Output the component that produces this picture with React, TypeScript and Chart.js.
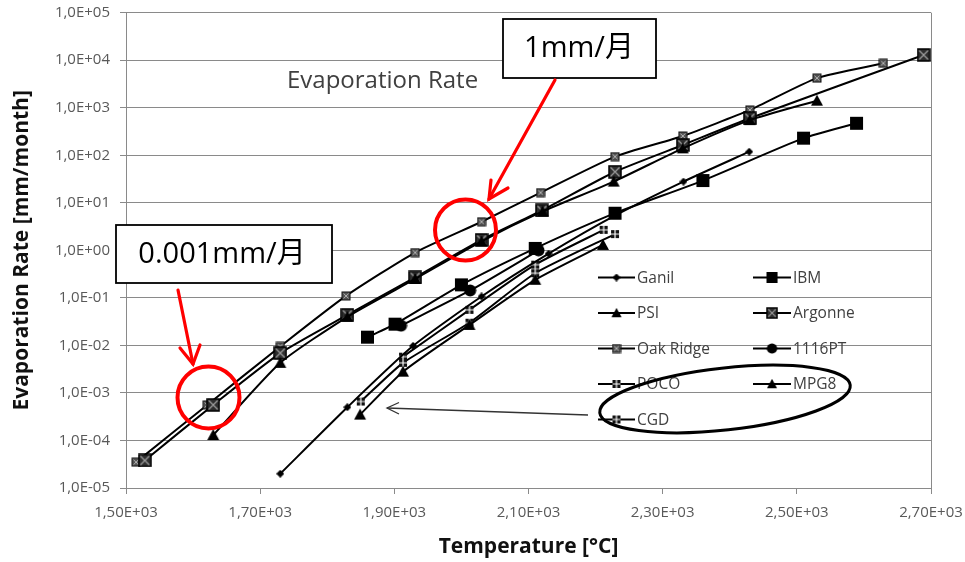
import React, { useEffect, useRef } from 'react';
import { Chart, registerables } from 'chart.js';

Chart.register(...registerables);

// ---------- data ----------
const xTickValues = [1500, 1700, 1900, 2100, 2300, 2500, 2700];
const xTickLabels = ['1,50E+03', '1,70E+03', '1,90E+03', '2,10E+03', '2,30E+03', '2,50E+03', '2,70E+03'];
const yTickValues = [1e-5, 1e-4, 1e-3, 1e-2, 1e-1, 1, 10, 100, 1000, 1e4, 1e5];
const yTickLabels = ['1,0E-05', '1,0E-04', '1,0E-03', '1,0E-02', '1,0E-01', '1,0E+00', '1,0E+01', '1,0E+02', '1,0E+03', '1,0E+04', '1,0E+05'];

const seriesNames = ['Ganil', 'IBM', 'PSI', 'Argonne', 'Oak Ridge', '1116PT', 'POCO', 'MPG8', 'CGD'];

const ganilT = [1730, 1830, 1928, 2030, 2130, 2230, 2331, 2429];
const ganilRate = [2.0e-5, 5.0e-4, 9.8e-3, 0.107, 0.85, 5.5, 28, 119];

const ibmT = [1860, 1901, 2000, 2110, 2229, 2360, 2510, 2589];
const ibmRate = [0.0149, 0.028, 0.188, 1.1, 6.05, 29.4, 229, 472];

const psiT = [1630, 1730, 1830, 1931, 2030, 2121, 2227, 2330, 2430, 2530];
const psiRate = [1.3e-4, 4.3e-3, 0.04, 0.25, 1.55, 6.6, 28, 140, 550, 1410];

const argonneT = [1528, 1630, 1730, 1830, 1931, 2030, 2120, 2229, 2330, 2430, 2689];
const argonneRate = [3.8e-5, 5.6e-4, 6.9e-3, 0.044, 0.27, 1.66, 6.9, 45, 165, 600, 12900];

const oakRidgeT = [1515, 1621, 1730, 1828, 1931, 2030, 2118, 2229, 2330, 2430, 2530, 2629];
const oakRidgeRate = [3.5e-5, 5.6e-4, 9.5e-3, 0.11, 0.9, 4.0, 16.4, 94, 255, 900, 4200, 8630];

const pt1116T = [1910, 2013, 2115];
const pt1116Rate = [0.026, 0.143, 1.0];

const pocoT = [1913, 2012, 2110, 2212];
const pocoRate = [5.8e-3, 0.056, 0.5, 2.7];

const mpg8T = [1849, 1913, 2012, 2110, 2211];
const mpg8Rate = [3.5e-4, 2.8e-3, 0.027, 0.24, 1.3];

const cgdT = [1850, 1913, 2012, 2110, 2229];
const cgdRate = [6.6e-4, 4.3e-3, 0.03, 0.33, 2.2];

const seriesT = [ganilT, ibmT, psiT, argonneT, oakRidgeT, pt1116T, pocoT, mpg8T, cgdT];
const seriesRate = [ganilRate, ibmRate, psiRate, argonneRate, oakRidgeRate, pt1116Rate, pocoRate, mpg8Rate, cgdRate];
const seriesMarker = ['diamond', 'bigSquare', 'triangle', 'xSquare', 'smallPattern', 'circle', 'plusSquare', 'triangle', 'plusSquare'];

// ---------- styling ----------
const W = 965;
const H = 562;
const GRID = '#8a8a8a';
const FONT = '"Open Sans", "Noto Sans CJK JP", sans-serif';

function makeMarker(kind: string): HTMLCanvasElement {
  const c = document.createElement('canvas');
  const s = kind === 'bigSquare' ? 15 : kind === 'xSquare' ? 14 : kind === 'triangle' ? 14 : kind === 'circle' ? 13 : kind === 'diamond' ? 8 : 10;
  c.width = s;
  c.height = s;
  const g = c.getContext('2d')!;
  g.fillStyle = '#000';
  g.strokeStyle = '#000';
  if (kind === 'diamond') {
    g.beginPath();
    g.moveTo(s / 2, 0);
    g.lineTo(s, s / 2);
    g.lineTo(s / 2, s);
    g.lineTo(0, s / 2);
    g.closePath();
    g.fill();
  } else if (kind === 'bigSquare') {
    g.fillRect(1, 1, s - 2, s - 2);
  } else if (kind === 'triangle') {
    g.beginPath();
    g.moveTo(s / 2, 1);
    g.lineTo(s - 1, s - 2);
    g.lineTo(1, s - 2);
    g.closePath();
    g.fill();
  } else if (kind === 'circle') {
    g.beginPath();
    g.arc(s / 2, s / 2, s / 2 - 0.5, 0, Math.PI * 2);
    g.fill();
  } else if (kind === 'xSquare') {
    g.fillStyle = '#2e2e2e';
    g.fillRect(1, 1, s - 2, s - 2);
    g.strokeStyle = '#9a9a9a';
    g.lineWidth = 1.3;
    g.beginPath();
    g.moveTo(2.5, 2.5);
    g.lineTo(s - 2.5, s - 2.5);
    g.moveTo(s - 2.5, 2.5);
    g.lineTo(2.5, s - 2.5);
    g.stroke();
    g.strokeStyle = '#000';
    g.lineWidth = 1.5;
    g.strokeRect(1, 1, s - 2, s - 2);
  } else if (kind === 'smallPattern') {
    g.fillStyle = '#555';
    g.fillRect(1, 1, s - 2, s - 2);
    g.strokeStyle = '#b0b0b0';
    g.lineWidth = 1;
    g.beginPath();
    g.moveTo(2.5, 2.5);
    g.lineTo(s - 2.5, s - 2.5);
    g.moveTo(s - 2.5, 2.5);
    g.lineTo(2.5, s - 2.5);
    g.stroke();
    g.strokeStyle = '#111';
    g.strokeRect(1, 1, s - 2, s - 2);
  } else if (kind === 'plusSquare') {
    g.fillStyle = '#111';
    g.fillRect(1, 1, s - 2, s - 2);
    g.strokeStyle = '#fff';
    g.lineWidth = 1.2;
    g.beginPath();
    g.moveTo(s / 2, 1);
    g.lineTo(s / 2, s - 1);
    g.moveTo(1, s / 2);
    g.lineTo(s - 1, s / 2);
    g.stroke();
  }
  return c;
}

function drawArrowHead(ctx: CanvasRenderingContext2D, tipX: number, tipY: number, ax: number, ay: number, bx: number, by: number) {
  ctx.beginPath();
  ctx.moveTo(ax, ay);
  ctx.lineTo(tipX, tipY);
  ctx.lineTo(bx, by);
  ctx.stroke();
}

export default function App() {
  const canvasRef = useRef<HTMLCanvasElement | null>(null);

  useEffect(() => {
    const canvas = canvasRef.current;
    if (!canvas) return;
    const markers = seriesMarker.map((k) => makeMarker(k));

    const overlayPlugin = {
      id: 'overlay',
      afterDraw(chart: any) {
        const ctx: CanvasRenderingContext2D = chart.ctx;
        ctx.save();

        // in-plot title
        ctx.fillStyle = '#404040';
        ctx.font = `24px ${FONT}`;
        ctx.textBaseline = 'alphabetic';
        ctx.textAlign = 'left';
        ctx.fillText('Evaporation Rate', 287, 88);

        // legend
        const colLine = [[598, 635], [753, 791]];
        const colText = [637, 793];
        ctx.font = `15.5px ${FONT}`;
        ctx.textBaseline = 'middle';
        seriesNames.forEach((name, i) => {
          const col = i % 2;
          const row = Math.floor(i / 2);
          const y = 277.5 + row * 35.5;
          ctx.strokeStyle = '#000';
          ctx.lineWidth = 2;
          ctx.beginPath();
          ctx.moveTo(colLine[col][0], y);
          ctx.lineTo(colLine[col][1], y);
          ctx.stroke();
          const m = markers[i];
          const mx = (colLine[col][0] + colLine[col][1]) / 2;
          const sc = m.width > 12 ? 0.85 : 1;
          ctx.drawImage(m, mx - (m.width * sc) / 2, y - (m.height * sc) / 2, m.width * sc, m.height * sc);
          ctx.fillStyle = '#404040';
          ctx.fillText(name, colText[col], y + 1);
        });

        // ellipse around POCO / MPG8 / CGD
        ctx.strokeStyle = '#000';
        ctx.lineWidth = 3;
        ctx.beginPath();
        ctx.ellipse(725, 399, 126, 31, -0.11, 0, Math.PI * 2);
        ctx.stroke();

        // thin arrow to CGD
        ctx.strokeStyle = '#333';
        ctx.lineWidth = 1.3;
        ctx.beginPath();
        ctx.moveTo(588, 415);
        ctx.lineTo(387, 408);
        ctx.stroke();
        drawArrowHead(ctx, 387, 408, 399, 402.5, 399, 414);

        // callout boxes
        ctx.fillStyle = '#fff';
        ctx.strokeStyle = '#000';
        ctx.lineWidth = 1.8;
        ctx.fillRect(503, 19, 153, 59);
        ctx.strokeRect(503, 19, 153, 59);
        ctx.fillRect(116, 225, 216, 58);
        ctx.strokeRect(116, 225, 216, 58);
        ctx.fillStyle = '#000';
        ctx.font = `29px ${FONT}`;
        ctx.textAlign = 'center';
        ctx.textBaseline = 'middle';
        ctx.fillText('1mm/月', 579, 49);
        ctx.fillText('0.001mm/月', 222, 255);

        // red circles
        ctx.strokeStyle = '#ff0000';
        ctx.lineWidth = 4;
        ctx.beginPath();
        ctx.arc(465.5, 230, 30.5, 0, Math.PI * 2);
        ctx.stroke();
        ctx.beginPath();
        ctx.arc(208.5, 397.5, 31, 0, Math.PI * 2);
        ctx.stroke();

        // red arrows
        ctx.lineWidth = 3.2;
        ctx.lineCap = 'round';
        ctx.beginPath();
        ctx.moveTo(555, 80);
        ctx.lineTo(489, 199);
        ctx.stroke();
        drawArrowHead(ctx, 489, 199, 491, 180, 508, 188);
        ctx.beginPath();
        ctx.moveTo(178, 290);
        ctx.lineTo(193, 364);
        ctx.stroke();
        drawArrowHead(ctx, 193, 364, 180, 348, 200, 345);

        ctx.restore();
      },
    };

    const chart = new Chart(canvas, {
      type: 'scatter',
      data: {
        datasets: seriesNames.map((name, i) => ({
          label: name,
          data: seriesT[i].map((t, j) => ({ x: t, y: seriesRate[i][j] })),
          showLine: true,
          borderColor: '#000',
          backgroundColor: '#000',
          borderWidth: 2,
          tension: 0.2,
          pointStyle: markers[i] as any,
          pointRadius: 6,
        })),
      },
      options: {
        responsive: false,
        animation: false,
        devicePixelRatio: 1,
        layout: { padding: { left: 0, top: 12.7, right: 34, bottom: 0 } },
        plugins: {
          legend: { display: false },
          tooltip: { enabled: false },
        },
        scales: {
          x: {
            type: 'linear',
            min: 1500,
            max: 2700,
            afterBuildTicks: (s: any) => {
              s.ticks = xTickValues.map((v) => ({ value: v }));
            },
            afterFit: (s: any) => {
              s.height = 74;
              s.paddingLeft = 0;
              s.paddingRight = 0;
            },
            ticks: {
              autoSkip: false,
              maxRotation: 0,
              padding: 10,
              color: '#595959',
              font: { family: FONT, size: 15 },
              callback: (v: any) => xTickLabels[xTickValues.indexOf(Number(v))],
            },
            grid: {
              color: (ctx: any) => (ctx.tick && ctx.tick.value === 2700 ? GRID : 'rgba(0,0,0,0)'),
              tickColor: GRID,
              tickLength: 6,
            },
            border: { display: true, color: GRID, width: 1 },
            title: {
              display: true,
              text: 'Temperature [°C]',
              color: '#111',
              font: { family: FONT, size: 21, weight: 'bold' },
              padding: { top: 0, bottom: 2 },
            },
          },
          y: {
            type: 'logarithmic',
            min: 1e-5,
            max: 1e5,
            afterBuildTicks: (s: any) => {
              s.ticks = yTickValues.map((v) => ({ value: v }));
            },
            afterFit: (s: any) => {
              s.width = 126;
              s.paddingTop = 0;
              s.paddingBottom = 0;
            },
            ticks: {
              autoSkip: false,
              padding: 10,
              color: '#595959',
              font: { family: FONT, size: 15 },
              callback: (v: any) => {
                const idx = yTickValues.findIndex((t) => Math.abs(Math.log10(t) - Math.log10(Number(v))) < 1e-6);
                return idx >= 0 ? yTickLabels[idx] : '';
              },
            },
            grid: { color: GRID, tickColor: GRID, tickLength: 6 },
            border: { display: true, color: GRID, width: 1 },
            title: {
              display: true,
              text: 'Evaporation Rate [mm/month]',
              color: '#111',
              font: { family: FONT, size: 21, weight: 'bold' },
              padding: { top: 9, bottom: 0 },
            },
          },
        },
      },
      plugins: [overlayPlugin],
    } as any);

    return () => chart.destroy();
  }, []);

  return (
    <div style={{ position: 'fixed', left: 0, top: 0, width: W, height: H, background: '#fff' }}>
      <canvas ref={canvasRef} width={W} height={H} style={{ display: 'block' }} />
    </div>
  );
}
